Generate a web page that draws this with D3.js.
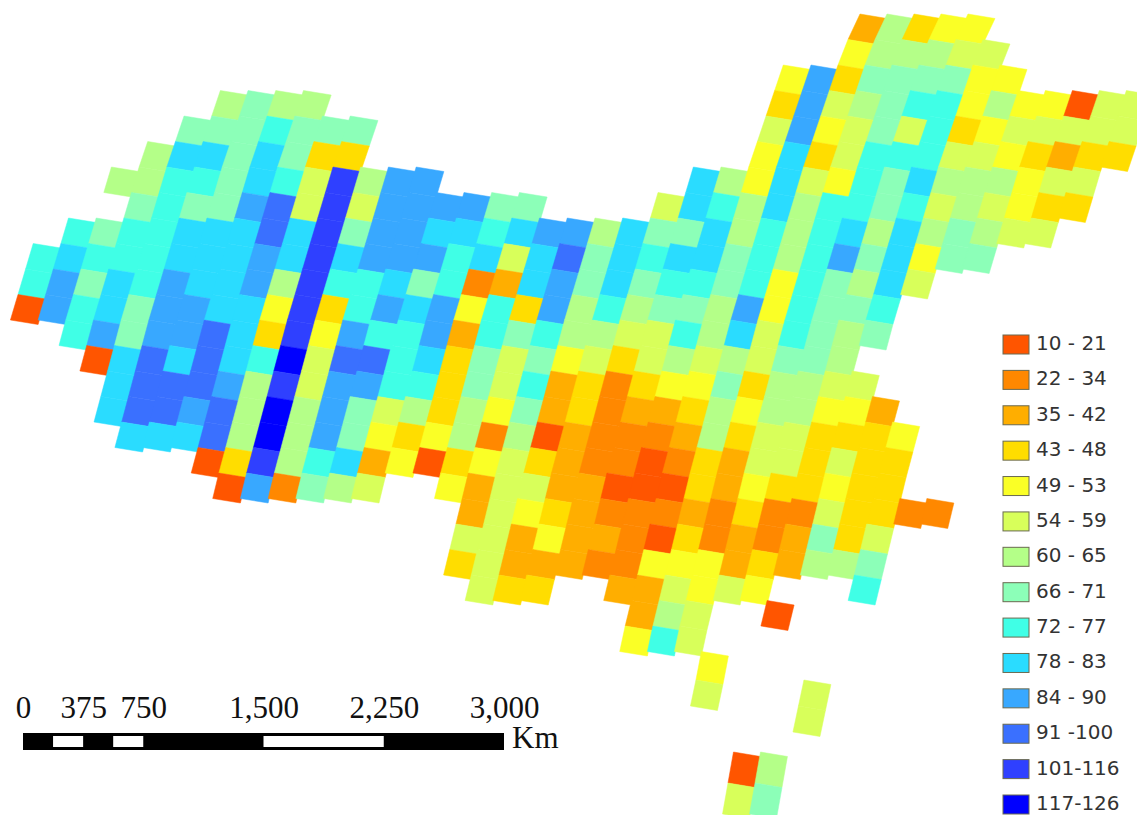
<!DOCTYPE html>
<html>
<head>
<meta charset="utf-8">
<script src="https://cdnjs.cloudflare.com/ajax/libs/d3/7.8.5/d3.min.js"></script>
<style>
    html, body { margin: 0; background: #fff; }
    svg { display: block; }
</style>
</head>
<body>
<div id="map"></div>
<script>
// legend classes, a = first class ... n = last class
const class_keys = "abcdefghijklmn".split("");
const class_labels = ["10 - 21", "22 - 34", "35 - 42", "43 - 48", "49 - 53", "54 - 59", "60 - 65",
    "66 - 71", "72 - 77", "78 - 83", "84 - 90", "91 -100", "101-116", "117-126"];
const class_colors = ["#ff5500", "#ff8800", "#ffae00", "#ffdd00", "#faff26", "#d8ff5a", "#b4ff88",
    "#8cffb8", "#40ffe6", "#2adcff", "#38a8ff", "#3a70ff", "#2f40ff", "#0000ff"];

// runs of cells: [row, first column, class of every cell], row 0 is the northern most one
const cell_runs = [
    [0, 29, "cgdee"],
    [1, 29, "egggff"],
    [2, 27, "ekdhhhhee"],
    [3, 7, "ghgg"], [3, 27, "dkfghiiegeeaff"],
    [4, 6, "hhhihhh"], [4, 27, "fkefhfidefffff"],
    [5, 5, "gjjhjhdd"], [5, 27, "ejdfiiiffedcdd"],
    [6, 4, "ggiihjifmgkk"], [6, 25, "jgejfeihjgggeff"],
    [7, 5, "hihhklfmfkkkkhh"], [7, 24, "fjigjgiihifgfedd"],
    [8, 3, "ihiijjjljmhkkjjijkkgjhhjgigijgjghgff"],
    [9, 2, "ijiiijjjkjmjkkkijfjlhjijjhigikhjehh"],
    [10, 2, "ikhjikjjkgmiijhibcjkhjhiihieihgjf"],
    [11, 2, "akijhkkjjemdikjkeidkgighhgkeihhi"],
    [12, 4, "ikhkkljdmekiikcihiggffigjfihgh"],
    [13, 5, "ajljljinfllijdhfhefdfgfgfhhg"],
    [14, 6, "jlllkgmfkkiidhficdbdeehdggff"],
    [15, 6, "jllklgngkhfgdgehcdbccdgeggeec"],
    [16, 7, "jjjlgngkhedegbgacbbbcgdffddde"],
    [17, 10, "admgijceadefdcbbabdcffdfdd"],
    [18, 11, "akbhgf"], [18, 19, "ecffccaaadceddedd"],
    [19, 20, "cfedcbbbcbdbbfddbb"],
    [20, 20, "ffceccbadbcbchdf"],
    [21, 20, "dfcccbbeeecdcggh"],
    [22, 21, "fdd"], [22, 26, "ccfefe"], [22, 35, "i"],
    [23, 27, "cgf"], [23, 32, "a"],
    [24, 27, "eif"],
    [25, 30, "e"],
    [26, 30, "f"], [26, 34, "f"],
    [27, 34, "f"],
    [29, 32, "ag"],
    [30, 32, "fh"]
];

const width = 1137,
    height = 815;

// the sheet leans, a bit more in the north than in the south
const x_col = d3.scaleLinear().domain([0, 12, 28, 41]).range([0.6, 333, 776.5, 1127.5]);
const row_shift = d3.scaleLinear().domain([0, 1, 2, 6, 12, 18, 24, 31]).range([56.5, 44.5, 34.5, 0, -45.6, -86.4, -123.6, -162]);
const y_row = d3.scaleLinear().domain([0, 25, 26, 27, 28, 29, 30, 31]).range([14, 651.5, 680, 706, 732, 752, 783, 814]);
const color = d3.scaleOrdinal().domain(class_keys).range(class_colors);

const cell_slope = 4.5;

let svg = d3.select("#map")
    .append("svg")
    .attr("width", width)
    .attr("height", height)
    .style("background", "#fff");

let cells = [];
cell_runs.forEach(run => {
    run[2].split("").forEach((key, i) => {
        cells.push({row: run[0], col: run[1] + i, key: key});
    });
});

function cell_points(d) {
    let left = x_col(d.col) + row_shift(d.row),
        right = x_col(d.col + 1) + row_shift(d.row),
        lean = row_shift(d.row) - row_shift(d.row + 1),
        top = y_row(d.row),
        bottom = y_row(d.row + 1);
    return [
        [left, top],
        [right, top + cell_slope],
        [right - lean, bottom + cell_slope],
        [left - lean, bottom]
    ].join(" ");
}

svg.append("g")
    .attr("class", "cells")
    .selectAll("polygon")
    .data(cells)
    .enter()
    .append("polygon")
    .attr("points", cell_points)
    .attr("fill", d => color(d.key))
    .attr("stroke", d => color(d.key))
    .attr("stroke-width", 0.5);

/** legend */
const legend_y = d3.scalePoint().domain(class_keys).range([344, 804]);

let legend = svg.append("g").attr("class", "legend");
let legend_items = legend.selectAll("g")
    .data(class_keys)
    .enter()
    .append("g")
    .attr("transform", d => "translate(0," + legend_y(d) + ")");

legend_items.append("rect")
    .attr("x", 1003)
    .attr("y", -9)
    .attr("width", 26)
    .attr("height", 19)
    .attr("fill", d => color(d))
    .attr("stroke", "#6a6a50")
    .attr("stroke-width", 1);

legend_items.append("text")
    .attr("x", 1036)
    .attr("y", 6)
    .style("font-family", "'DejaVu Sans'")
    .style("font-size", "20px")
    .style("fill", "#333")
    .text((d, i) => class_labels[i]);

/** scale bar */
const km_ticks = [0, 375, 750, 1500, 2250, 3000];
const km_white = [[187.5, 375], [562.5, 750], [1500, 2250]];
const x_km = d3.scaleLinear().domain([0, 3000]).range([23, 504]);

let bar = svg.append("g").attr("class", "scale-bar");

bar.append("rect")
    .attr("x", x_km(0))
    .attr("y", 733)
    .attr("width", x_km(3000) - x_km(0))
    .attr("height", 17)
    .attr("fill", "#000");

bar.selectAll(".white")
    .data(km_white)
    .enter()
    .append("rect")
    .attr("class", "white")
    .attr("x", d => x_km(d[0]))
    .attr("y", 736)
    .attr("width", d => x_km(d[1]) - x_km(d[0]))
    .attr("height", 11)
    .attr("fill", "#fff");

let bar_axis = bar.append("g")
    .attr("transform", "translate(0,718)")
    .call(d3.axisTop(x_km).tickValues(km_ticks).tickSize(0).tickPadding(0).tickFormat(d3.format(",")));

bar_axis.select(".domain").remove();
bar_axis.selectAll("text")
    .style("font-family", "'Liberation Serif'")
    .style("font-size", "31px")
    .style("fill", "#111");

bar.append("text")
    .attr("x", 512)
    .attr("y", 748)
    .style("font-family", "'Liberation Serif'")
    .style("font-size", "31px")
    .style("fill", "#111")
    .text("Km");
</script>
</body>
</html>
